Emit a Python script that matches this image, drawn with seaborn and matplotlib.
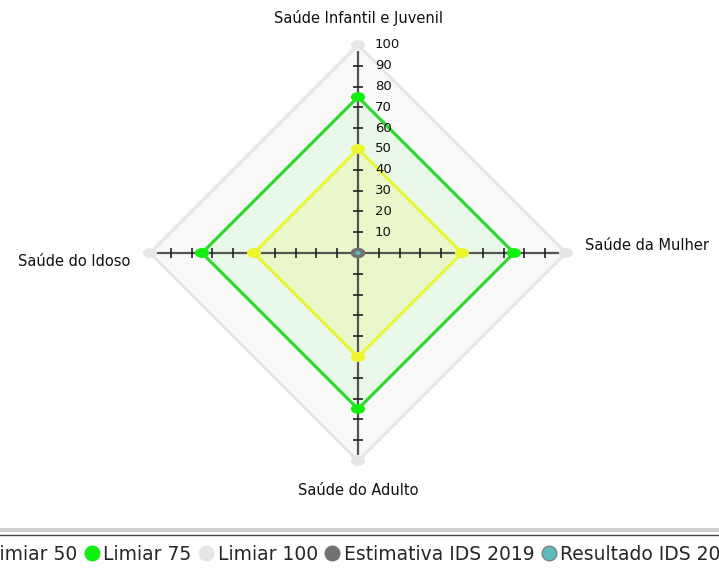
import numpy as np
import matplotlib.pyplot as plt
from matplotlib.path import Path
from matplotlib.transforms import Affine2D
from matplotlib.lines import Line2D
from matplotlib.collections import LineCollection
import seaborn as sns
import pandas as pd

sns.set_theme(style="white")
plt.rcParams['font.family'] = ['DejaVu Sans']

# Chart data
categories = ["Saúde Infantil e Juvenil", "Saúde da Mulher", "Saúde do Adulto", "Saúde do Idoso"]
series_names = ["Limiar 50", "Limiar 75", "Limiar 100", "Estimativa IDS 2019", "Resultado IDS 2019"]
limiar_50 = [50, 50, 50, 50]
limiar_75 = [75, 75, 75, 75]
limiar_100 = [100, 100, 100, 100]
estimativa_2019 = [0, 0, 0, 0]
resultado_2019 = [0, 0, 0, 0]
tick_values = [10, 20, 30, 40, 50, 60, 70, 80, 90, 100]

# Styles
line_colors = {"Limiar 50": "#e6f53c", "Limiar 75": "#2fd82f", "Limiar 100": "#e6e6e6"}
fill_colors = {"Limiar 50": ("#eef53a", 0.17), "Limiar 75": ("#22ee22", 0.07),
               "Limiar 100": ("#dedede", 0.18)}
marker_colors = {"Limiar 50": "#eef52a", "Limiar 75": "#11ee11", "Limiar 100": "#e6e6e6",
                 "Estimativa IDS 2019": "#707274", "Resultado IDS 2019": "#5cbcbc"}

values = {"Limiar 50": limiar_50, "Limiar 75": limiar_75, "Limiar 100": limiar_100,
          "Estimativa IDS 2019": estimativa_2019, "Resultado IDS 2019": resultado_2019}

# clockwise from the top
angles = np.deg2rad(90 - 90 * np.arange(len(categories)))

rows = []
for name in series_names:
    for cat, ang, v in zip(categories, angles, values[name]):
        rows.append({"serie": name, "eixo": cat, "valor": v,
                     "x": v * np.cos(ang), "y": v * np.sin(ang)})
df = pd.DataFrame(rows)

fig = plt.figure(figsize=(7.19, 5.70), dpi=100)
ax = fig.add_axes([0, 0, 1, 1])
px = 2.08  # pixels per unit
ax.set_xlim(-358 / px, 361 / px)
ax.set_ylim(-(570 - 253) / px, 253 / px)
ax.axis("off")

# Filled areas (biggest first)
for name in ["Limiar 100", "Limiar 75", "Limiar 50"]:
    d = df[df.serie == name]
    c, a = fill_colors[name]
    ax.fill(d.x, d.y, color=c, alpha=a, lw=0, zorder=1)

# Spokes and ticks
axis_len = 97
segs = []
tick_segs = []
for ang in angles:
    segs.append([(0, 0), (axis_len * np.cos(ang), axis_len * np.sin(ang))])
    perp = ang + np.pi / 2
    for t in tick_values[:-1]:
        cx, cy = t * np.cos(ang), t * np.sin(ang)
        dx, dy = 2.5 * np.cos(perp), 2.5 * np.sin(perp)
        tick_segs.append([(cx - dx, cy - dy), (cx + dx, cy + dy)])
ax.add_collection(LineCollection(segs, colors="#555555", linewidths=1.6, zorder=2))
ax.add_collection(LineCollection(tick_segs, colors="#222222", linewidths=1.2, zorder=2))

# Tick labels on the top spoke
for t in tick_values:
    ax.text(8.2, t, str(t), fontsize=9.5, ha="left", va="center", color="#111111", zorder=5)

# Polygon outlines
for name in ["Limiar 100", "Limiar 75", "Limiar 50"]:
    d = df[df.serie == name]
    ax.plot(list(d.x) + [d.x.iloc[0]], list(d.y) + [d.y.iloc[0]],
            color=line_colors[name], lw=2.3, zorder=3, solid_joinstyle="miter")

# Ellipse markers
ellipse = Path.unit_circle().transformed(Affine2D().scale(1.45, 1.0))
for name in ["Limiar 100", "Limiar 75", "Limiar 50", "Estimativa IDS 2019"]:
    sns.scatterplot(data=df[df.serie == name], x="x", y="y", ax=ax, marker=ellipse,
                    s=105, color=marker_colors[name], edgecolor="none", zorder=4, legend=False)
sns.scatterplot(data=df[df.serie == "Resultado IDS 2019"], x="x", y="y", ax=ax,
                marker=ellipse, s=12, color=marker_colors["Resultado IDS 2019"],
                edgecolor="none", zorder=5, legend=False)
ax.set_xlabel("")
ax.set_ylabel("")

# Category labels
label_pos = [(0, 113, "center", "center"), (109, 3.5, "left", "center"),
             (0, -114, "center", "center"), (-109.5, -4.3, "right", "center")]
for cat, (lx, ly, ha, va) in zip(categories, label_pos):
    ax.text(lx, ly, cat, fontsize=10.5, ha=ha, va=va, color="#111111")

# Separator above the legend
fig.add_artist(Line2D([0, 1], [1 - 530 / 570] * 2, transform=fig.transFigure,
                      color="#cfcfcf", lw=3))
fig.add_artist(Line2D([0, 1], [1 - 534.5 / 570] * 2, transform=fig.transFigure,
                      color="#444444", lw=1))

# Legend (wider than the figure, clipped at both sides like the reference)
handles = [Line2D([], [], ls="", marker="o", markersize=10.5,
                  markerfacecolor=marker_colors[n], markeredgecolor=marker_colors[n])
           for n in series_names]
handles[-1].set_markeredgecolor("#808080")
fig.legend(handles, series_names, loc="center", bbox_to_anchor=(0.497, 1 - 554 / 570),
           ncol=5, frameon=False, fontsize=13.5, handlelength=0.8, handletextpad=0.2,
           columnspacing=0.38, borderaxespad=0)

fig.savefig("out.png", dpi=100)
